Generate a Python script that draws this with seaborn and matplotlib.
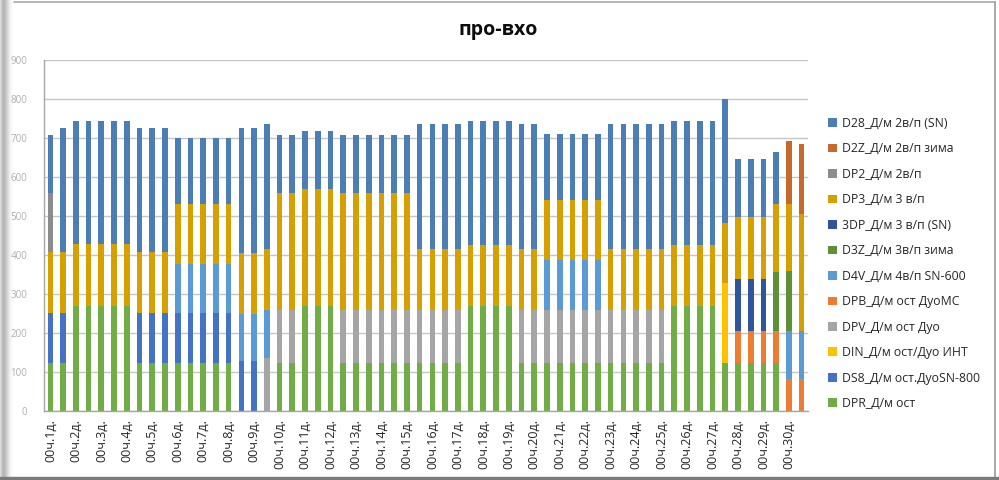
import numpy as np
import pandas as pd
import matplotlib
matplotlib.use("Agg")
import matplotlib.pyplot as plt
from matplotlib.patches import Patch
from matplotlib.lines import Line2D
import seaborn as sns

# ---------------- data ----------------
title = "про-вхо"

day_labels = ["00ч.1д.", "00ч.2д.", "00ч.3д.", "00ч.4д.", "00ч.5д.", "00ч.6д.",
              "00ч.7д.", "00ч.8д.", "00ч.9д.", "00ч.10д.", "00ч.11д.", "00ч.12д.",
              "00ч.13д.", "00ч.14д.", "00ч.15д.", "00ч.16д.", "00ч.17д.", "00ч.18д.",
              "00ч.19д.", "00ч.20д.", "00ч.21д.", "00ч.22д.", "00ч.23д.", "00ч.24д.",
              "00ч.25д.", "00ч.26д.", "00ч.27д.", "00ч.28д.", "00ч.29д.", "00ч.30д."]

y_ticks = [0, 100, 200, 300, 400, 500, 600, 700, 800, 900]

# legend order (top of legend = top of stack)
series = ["D28_Д/м 2в/п (SN)", "D2Z_Д/м 2в/п зима", "DP2_Д/м 2в/п", "DP3_Д/м 3 в/п",
          "3DP_Д/м 3 в/п (SN)", "D3Z_Д/м 3в/п зима", "D4V_Д/м 4в/п SN-600",
          "DPB_Д/м ост ДуоMC", "DPV_Д/м ост Дуо", "DIN_Д/м ост/Дуо ИНТ",
          "DS8_Д/м ост.ДуоSN-800", "DPR_Д/м ост"]

colors = ["#4A7EB4", "#C7682C", "#8C8C8C", "#D6A000", "#30559C", "#5C9138",
          "#5B9BD5", "#ED7D31", "#A5A5A5", "#FFC000", "#4472C4", "#70AD47"]

# 60 bars (two per day)
D28 = [150, 317, 316, 316, 316, 316, 316, 317, 317, 317,
       169, 169, 169, 169, 169, 319, 319, 320, 148, 148,
       149, 149, 149, 148, 148, 148, 148, 148, 148, 320,
       320, 320, 320, 317, 317, 317, 317, 320, 320, 169,
       169, 169, 169, 169, 320, 320, 320, 320, 320, 317,
       317, 317, 317, 319, 149, 149, 149, 131, 0, 0]
D2Z = [0, 0, 0, 0, 0, 0, 0, 0, 0, 0,
       0, 0, 0, 0, 0, 0, 0, 0, 0, 0,
       0, 0, 0, 0, 0, 0, 0, 0, 0, 0,
       0, 0, 0, 0, 0, 0, 0, 0, 0, 0,
       0, 0, 0, 0, 0, 0, 0, 0, 0, 0,
       0, 0, 0, 0, 0, 0, 0, 0, 161, 180]
DP2 = [150, 0, 0, 0, 0, 0, 0, 0, 0, 0,
       0, 0, 0, 0, 0, 0, 0, 0, 0, 0,
       0, 0, 0, 0, 0, 0, 0, 0, 0, 0,
       0, 0, 0, 0, 0, 0, 0, 0, 0, 0,
       0, 0, 0, 0, 0, 0, 0, 0, 0, 0,
       0, 0, 0, 0, 0, 0, 0, 0, 0, 0]
DP3 = [156, 156, 158, 158, 158, 158, 158, 156, 156, 156,
       155, 155, 155, 155, 155, 156, 156, 156, 300, 300,
       300, 300, 300, 300, 300, 300, 300, 300, 300, 156,
       156, 156, 156, 156, 156, 156, 156, 156, 156, 155,
       155, 155, 155, 155, 156, 156, 156, 156, 156, 156,
       156, 156, 156, 155, 158, 158, 158, 175, 173, 299]
TDP = [0, 0, 0, 0, 0, 0, 0, 0, 0, 0,
       0, 0, 0, 0, 0, 0, 0, 0, 0, 0,
       0, 0, 0, 0, 0, 0, 0, 0, 0, 0,
       0, 0, 0, 0, 0, 0, 0, 0, 0, 0,
       0, 0, 0, 0, 0, 0, 0, 0, 0, 0,
       0, 0, 0, 0, 135, 135, 135, 0, 0, 0]
D3Z = [0, 0, 0, 0, 0, 0, 0, 0, 0, 0,
       0, 0, 0, 0, 0, 0, 0, 0, 0, 0,
       0, 0, 0, 0, 0, 0, 0, 0, 0, 0,
       0, 0, 0, 0, 0, 0, 0, 0, 0, 0,
       0, 0, 0, 0, 0, 0, 0, 0, 0, 0,
       0, 0, 0, 0, 0, 0, 0, 153, 153, 0]
D4V = [0, 0, 0, 0, 0, 0, 0, 0, 0, 0,
       124, 124, 124, 124, 124, 122, 122, 123, 0, 0,
       0, 0, 0, 0, 0, 0, 0, 0, 0, 0,
       0, 0, 0, 0, 0, 0, 0, 0, 0, 126,
       126, 126, 126, 126, 0, 0, 0, 0, 0, 0,
       0, 0, 0, 0, 0, 0, 0, 0, 124, 124]
DPB = [0, 0, 0, 0, 0, 0, 0, 0, 0, 0,
       0, 0, 0, 0, 0, 0, 0, 0, 0, 0,
       0, 0, 0, 0, 0, 0, 0, 0, 0, 0,
       0, 0, 0, 0, 0, 0, 0, 0, 0, 0,
       0, 0, 0, 0, 0, 0, 0, 0, 0, 0,
       0, 0, 0, 0, 81, 81, 81, 81, 81, 81]
DPV = [0, 0, 0, 0, 0, 0, 0, 0, 0, 0,
       0, 0, 0, 0, 0, 0, 0, 137, 137, 137,
       0, 0, 0, 137, 137, 137, 137, 137, 137, 137,
       137, 137, 137, 0, 0, 0, 0, 137, 137, 137,
       137, 137, 137, 137, 137, 137, 137, 137, 137, 0,
       0, 0, 0, 0, 0, 0, 0, 0, 0, 0]
DIN = [0, 0, 0, 0, 0, 0, 0, 0, 0, 0,
       0, 0, 0, 0, 0, 0, 0, 0, 0, 0,
       0, 0, 0, 0, 0, 0, 0, 0, 0, 0,
       0, 0, 0, 0, 0, 0, 0, 0, 0, 0,
       0, 0, 0, 0, 0, 0, 0, 0, 0, 0,
       0, 0, 0, 204, 0, 0, 0, 0, 0, 0]
DS8 = [129, 129, 0, 0, 0, 0, 0, 129, 129, 129,
       129, 129, 129, 129, 129, 128, 128, 0, 0, 0,
       0, 0, 0, 0, 0, 0, 0, 0, 0, 0,
       0, 0, 0, 0, 0, 0, 0, 0, 0, 0,
       0, 0, 0, 0, 0, 0, 0, 0, 0, 0,
       0, 0, 0, 0, 0, 0, 0, 0, 0, 0]
DPR = [123, 123, 270, 270, 270, 270, 270, 123, 123, 123,
       123, 123, 123, 123, 123, 0, 0, 0, 123, 123,
       270, 270, 270, 123, 123, 123, 123, 123, 123, 123,
       123, 123, 123, 270, 270, 270, 270, 123, 123, 123,
       123, 123, 123, 123, 123, 123, 123, 123, 123, 270,
       270, 270, 270, 123, 123, 123, 123, 123, 0, 0]

values = [D28, D2Z, DP2, DP3, TDP, D3Z, D4V, DPB, DPV, DIN, DS8, DPR]

# ---------------- frame ----------------
n_bars = len(DPR)
rows = []
for name, vals in zip(series, values):
    for i, v in enumerate(vals):
        rows.append({"pos": i, "series": name, "value": v})
df = pd.DataFrame(rows)
palette = dict(zip(series, colors))

sns.set_style("white")
plt.rcParams["font.family"] = ["Open Sans", "DejaVu Sans"]

W, H = 999, 480
fig = plt.figure(figsize=(W / 100, H / 100), dpi=100)
fig.patch.set_facecolor("white")

# blurred left edge (drawn first, underneath everything)
gax = fig.add_axes([0, 0, 16 / W, 1])
gax.set_zorder(0)
shade = np.array([[0.86, 0.8, 0.74, 0.71, 0.72, 0.75, 0.79, 0.84, 0.88,
                   0.92, 0.95, 0.97, 0.985, 0.995, 1.0, 1.0]])
gax.imshow(shade, cmap="gray", vmin=0, vmax=1, aspect="auto")
gax.axis("off")

ax = fig.add_axes([44 / W, (H - 411) / H, (808 - 44) / W, (411 - 60) / H])
ax.set_zorder(1)
ax.patch.set_alpha(0)

sns.histplot(data=df, x="pos", weights="value", hue="series", hue_order=series,
             palette=palette, multiple="stack", discrete=True, shrink=0.44,
             alpha=1, linewidth=0, edgecolor="none", legend=False, ax=ax)

ax.set_xlim(-0.5, n_bars - 0.5)
ax.set_ylim(y_ticks[0], y_ticks[-1])
ax.set_xlabel("")
ax.set_ylabel("")

ax.set_yticks(y_ticks)
ax.set_yticklabels([str(t) for t in y_ticks])
ax.yaxis.grid(True, color="#C6C6C6", linewidth=1.0)
ax.xaxis.grid(False)
ax.set_axisbelow(True)
ax.tick_params(axis="y", length=4, width=0.8, color="#A6A6A6", labelsize=7,
               labelcolor="#B0B0B0", pad=8)

ax.set_xticks(list(range(0, n_bars, 2)))
ax.set_xticklabels(day_labels, rotation=90, fontsize=9, color="#262626")
ax.set_xticks([x - 0.5 for x in range(n_bars + 1)], minor=True)
ax.tick_params(axis="x", which="major", length=0, pad=6)
ax.tick_params(axis="x", which="minor", length=4, width=0.8, color="#A6A6A6")

for s in ["top", "right"]:
    ax.spines[s].set_visible(False)
for s in ["left", "bottom"]:
    ax.spines[s].set_color("#A6A6A6")
    ax.spines[s].set_linewidth(1.0)

fig.text(0.499, 1 - 30 / H, title, ha="center", va="center",
         fontsize=14, fontweight="bold", color="#0D0D0D")

handles = [Patch(facecolor=palette[s], edgecolor="none") for s in series]
fig.legend(handles, series, loc="upper left",
           bbox_to_anchor=(823 / W, 1 - 112 / H), frameon=False,
           fontsize=8.8, handlelength=0.72, handleheight=0.72,
           handletextpad=0.45, labelspacing=1.02, borderaxespad=0,
           labelcolor="#262626")

# chart-area frame lines
fig.add_artist(Line2D([14 / W, 995 / W], [1 - 1.5 / H, 1 - 1.5 / H],
                      transform=fig.transFigure, color="#A8A8A8", lw=1.2))
fig.add_artist(Line2D([995 / W, 995 / W], [1 - 1.5 / H, 1 - 477 / H],
                      transform=fig.transFigure, color="#9A9A9A", lw=1.2))
fig.add_artist(Line2D([0, 999 / W], [1 - 478 / H, 1 - 478 / H],
                      transform=fig.transFigure, color="#7A7A7A", lw=2.4))

fig.savefig("out.png", dpi=100, facecolor="white")
